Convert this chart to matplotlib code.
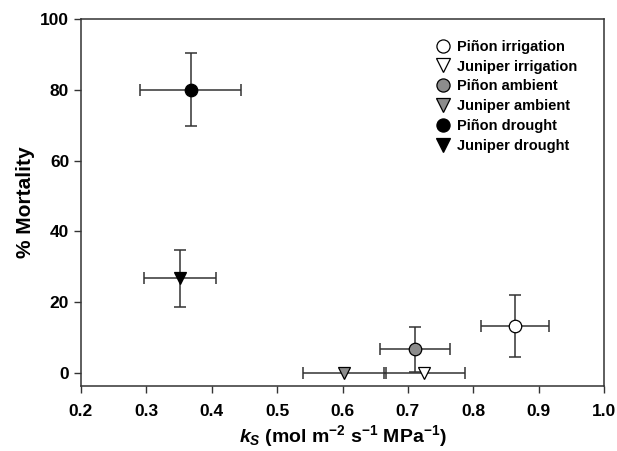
import matplotlib
matplotlib.use("Agg")
import matplotlib.pyplot as plt

plt.rcParams['font.family'] = ['Liberation Sans', 'DejaVu Sans']
plt.rcParams['font.weight'] = 'bold'
plt.rcParams['mathtext.fontset'] = 'custom'
plt.rcParams['mathtext.rm'] = 'Liberation Sans:bold'
plt.rcParams['mathtext.it'] = 'Liberation Sans:bold:italic'
plt.rcParams['mathtext.bf'] = 'Liberation Sans:bold'

labels = ["Piñon irrigation", "Juniper irrigation", "Piñon ambient",
          "Juniper ambient", "Piñon drought", "Juniper drought"]
ks = [0.864, 0.725, 0.711, 0.603, 0.368, 0.352]
ks_err = [0.052, 0.062, 0.053, 0.063, 0.077, 0.055]
mortality = [13.3, 0.0, 6.7, 0.0, 80.0, 26.7]
mortality_err = [8.8, 0.0, 6.4, 0.0, 10.3, 8.0]
markers = ["o", "v", "o", "v", "o", "v"]
facecolors = ["white", "white", "#8c8c8c", "#8c8c8c", "black", "black"]

fig = plt.figure(figsize=(6.17, 4.51), dpi=100)
ax = fig.add_axes([81/617, 1-386/451, (604-81)/617, (386-19)/451])

for x, xe, y, ye, m, fc, lab in zip(ks, ks_err, mortality, mortality_err,
                                    markers, facecolors, labels):
    ax.errorbar(x, y, xerr=xe, yerr=ye if ye > 0 else None, fmt='none',
                ecolor='#333333', elinewidth=1.1, capsize=4, capthick=1.1, zorder=2)
    ax.plot(x, y, marker=m, markersize=9, markerfacecolor=fc,
            markeredgecolor='black', markeredgewidth=0.9, linestyle='none',
            label=lab, zorder=3)

ax.set_xlim(0.2, 1.0)
ax.set_ylim(-3.7, 100)
ax.set_xticks([0.2, 0.3, 0.4, 0.5, 0.6, 0.7, 0.8, 0.9, 1.0])
ax.set_yticks([0, 20, 40, 60, 80, 100])
ax.tick_params(direction='out', length=5, width=1, labelsize=12.5, color='#333333')
ax.tick_params(axis='x', pad=8)
for lab in ax.get_xticklabels() + ax.get_yticklabels():
    lab.set_fontweight('bold')
for s in ax.spines.values():
    s.set_linewidth(1.1)
    s.set_color('#333333')

ax.set_ylabel('% Mortality', fontsize=15, fontweight='bold', labelpad=4)
ax.set_xlabel(r'$\mathit{k}_{S}$ (mol m$^{-2}$ s$^{-1}$ MPa$^{-1}$)',
              fontsize=14, fontweight='bold', labelpad=3)

leg = ax.legend(loc='upper right', frameon=False, fontsize=10.5,
                handletextpad=0.5, labelspacing=0.4, borderaxespad=1.4,
                handlelength=1.0, markerscale=1.05,
                bbox_to_anchor=(1.0, 1.015))
for t in leg.get_texts():
    t.set_fontweight('bold')

fig.savefig('out.png', dpi=100)
